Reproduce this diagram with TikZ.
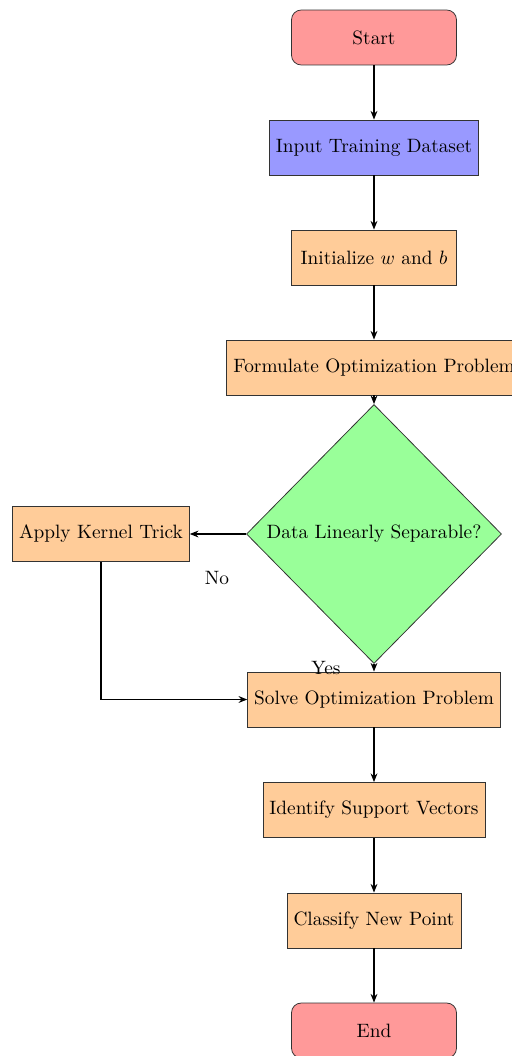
\documentclass[tikz,border=0pt]{standalone}
\usetikzlibrary{shapes.geometric,arrows.meta}
\begin{document}
\begin{tikzpicture}[x=0.5175pt,y=-0.5175pt,
  box/.style={rectangle,draw=black!80,minimum width=3cm,minimum height=1cm,align=center},
  term/.style={box,rounded corners=5pt,fill=red!40},
  proc/.style={box,fill=orange!40},
  io/.style={box,fill=blue!40},
  decide/.style={diamond,draw=black!80,fill=green!40,minimum width=132pt,minimum height=134pt,inner sep=1pt},
  arr/.style={thick,-{Stealth[length=4.5pt,width=3.5pt]}}]
\useasboundingbox (0,0) rectangle (512,1056);
\clip (0,0) rectangle (512,1056);

% main column of steps
\node[term] (start) at (374,37.5) {Start};
\node[io]   (input) at (374,147.5) {Input Training Dataset};
\node[proc] (init)  at (374,257.5) {Initialize $w$ and $b$};
\node[proc] (form)  at (374,367.5) {Formulate Optimization Problem};
\node[decide] (sep) at (374,534) {Data Linearly Separable?};
\node[proc] (kern)  at (101,534) {Apply Kernel Trick};
\node[proc] (solve) at (374,699.5) {Solve Optimization Problem};
\node[proc] (supp)  at (374,810) {Identify Support Vectors};
\node[proc] (class) at (374,920.5) {Classify New Point};
\node[term] (end)   at (374,1030.5) {End};

% branch labels
\node (no)  at (217,578) {No};
\node (yes) at (326,668) {Yes};

% connectors
\draw[arr] (start) -- (input);
\draw[arr] (input) -- (init);
\draw[arr] (init) -- (form);
\draw[arr] (form) -- (sep);
\draw[arr] (sep.west) -- (kern.east);
\draw[arr] (sep.south) -- (solve.north);
\draw[arr] (kern.south) |- (solve.west);
\draw[arr] (solve) -- (supp);
\draw[arr] (supp) -- (class);
\draw[arr] (class) -- (end);
\end{tikzpicture}
\end{document}
